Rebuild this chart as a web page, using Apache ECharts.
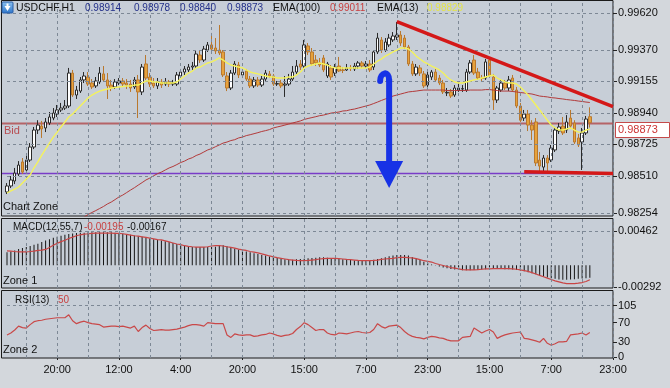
<!DOCTYPE html>
<html><head><meta charset="utf-8">
<script src="https://cdn.jsdelivr.net/npm/echarts@6/dist/echarts.min.js"></script>
<style>html,body{margin:0;padding:0;background:#d3d7dc}#c{width:670px;height:388px}</style>
</head><body><div id="c"></div>
<script>
// ---------------- DATA ----------------
const openP = [0.98400,0.98441,0.98475,0.98523,0.98605,0.98550,0.98618,0.98707,0.98823,0.98850,
0.98837,0.98871,0.98905,0.98932,0.98960,0.98973,0.98987,0.99212,0.99062,0.99089,
0.99165,0.99185,0.99144,0.99124,0.99151,0.99206,0.99165,0.99130,0.99117,0.99144,
0.99158,0.99144,0.99137,0.99117,0.99165,0.99083,0.99274,0.99185,0.99144,0.99124,
0.99151,0.99137,0.99151,0.99137,0.99137,0.99192,0.99219,0.99233,0.99253,0.99260,
0.99335,0.99301,0.99369,0.99404,0.99383,0.99369,0.99356,0.99192,0.99110,0.99212,
0.99267,0.99199,0.99226,0.99171,0.99124,0.99165,0.99130,0.99171,0.99206,0.99192,
0.99137,0.99144,0.99130,0.99137,0.99171,0.99219,0.99274,0.99260,0.99397,0.99356,
0.99301,0.99281,0.99315,0.99192,0.99247,0.99212,0.99260,0.99233,0.99233,0.99247,
0.99240,0.99260,0.99281,0.99260,0.99274,0.99253,0.99356,0.99438,0.99369,0.99404,
0.99438,0.99458,0.99472,0.99451,0.99390,0.99274,0.99206,0.99247,0.99206,0.99130,
0.99185,0.99219,0.99178,0.99144,0.99076,0.99083,0.99062,0.99096,0.99103,0.99096,
0.99219,0.99301,0.99219,0.99178,0.99178,0.99301,0.99185,0.99028,0.99096,0.99144,
0.99110,0.99178,0.99096,0.98987,0.98905,0.98932,0.98857,0.98878,0.98618,0.98570,
0.98632,0.98618,0.98687,0.98816,0.98850,0.98823,0.98905,0.98871,0.98769,0.98741,
0.98803,0.98914];
const closeP = [0.98441,0.98482,0.98529,0.98584,0.98536,0.98618,0.98707,0.98823,0.98857,0.98830,
0.98878,0.98912,0.98939,0.98960,0.98973,0.98987,0.99212,0.99062,0.99096,0.99165,
0.99192,0.99137,0.99117,0.99158,0.99212,0.99165,0.99124,0.99110,0.99151,0.99158,
0.99137,0.99130,0.99110,0.99165,0.99083,0.99253,0.99178,0.99137,0.99124,0.99151,
0.99130,0.99151,0.99137,0.99144,0.99199,0.99219,0.99240,0.99253,0.99260,0.99342,
0.99301,0.99376,0.99404,0.99376,0.99363,0.99349,0.99199,0.99110,0.99212,0.99274,
0.99199,0.99219,0.99171,0.99124,0.99165,0.99130,0.99171,0.99212,0.99192,0.99137,
0.99140,0.99124,0.99137,0.99171,0.99219,0.99260,0.99253,0.99404,0.99356,0.99274,
0.99281,0.99267,0.99233,0.99274,0.99185,0.99253,0.99226,0.99230,0.99247,0.99244,
0.99260,0.99281,0.99260,0.99274,0.99233,0.99356,0.99451,0.99369,0.99424,0.99451,
0.99465,0.99472,0.99417,0.99390,0.99274,0.99206,0.99253,0.99212,0.99124,0.99199,
0.99219,0.99165,0.99144,0.99083,0.99080,0.99055,0.99110,0.99110,0.99106,0.99219,
0.99281,0.99212,0.99178,0.99175,0.99288,0.99192,0.99028,0.99110,0.99144,0.99110,
0.99165,0.99096,0.98987,0.98890,0.98932,0.98857,0.98823,0.98598,0.98577,0.98632,
0.98598,0.98700,0.98823,0.98844,0.98803,0.98878,0.98850,0.98741,0.98721,0.98803,
0.98898,0.98873];
const lowP = [0.98386,0.98427,0.98454,0.98509,0.98523,0.98536,0.98605,0.98693,0.98796,0.98769,
0.98809,0.98857,0.98890,0.98912,0.98946,0.98960,0.98973,0.99049,0.99035,0.99076,
0.99144,0.99124,0.99103,0.99110,0.99137,0.99151,0.99035,0.99089,0.99103,0.99130,
0.99117,0.99103,0.99083,0.99103,0.98905,0.99062,0.99165,0.99117,0.99110,0.99103,
0.99110,0.99124,0.99117,0.99124,0.99124,0.99178,0.99199,0.99219,0.99233,0.99247,
0.99281,0.99288,0.99356,0.99356,0.99342,0.99335,0.99185,0.99089,0.99096,0.99199,
0.99178,0.99178,0.99158,0.99110,0.99110,0.99117,0.99117,0.99158,0.99178,0.99124,
0.99124,0.99110,0.99049,0.99124,0.99158,0.99206,0.99233,0.99247,0.99335,0.99260,
0.99260,0.99253,0.99219,0.99178,0.99165,0.99192,0.99219,0.99212,0.99226,0.99226,
0.99226,0.99240,0.99247,0.99247,0.99219,0.99233,0.99342,0.99349,0.99356,0.99390,
0.99424,0.99438,0.99397,0.99376,0.99260,0.99192,0.99192,0.99192,0.99110,0.99117,
0.99165,0.99151,0.99130,0.99069,0.99055,0.99042,0.99049,0.99083,0.99083,0.99083,
0.99206,0.99199,0.99165,0.99151,0.99165,0.99178,0.98960,0.99008,0.99083,0.99096,
0.99089,0.99083,0.98973,0.98878,0.98885,0.98816,0.98755,0.98577,0.98543,0.98536,
0.98543,0.98605,0.98673,0.98796,0.98789,0.98803,0.98837,0.98728,0.98707,0.98550,
0.98789,0.98840];
const highP = [0.98461,0.98509,0.98564,0.98611,0.98632,0.98652,0.98734,0.98844,0.98890,0.98885,
0.98905,0.98946,0.98973,0.98994,0.99008,0.99028,0.99247,0.99233,0.99124,0.99185,
0.99219,0.99219,0.99171,0.99185,0.99253,0.99260,0.99212,0.99165,0.99171,0.99178,
0.99178,0.99171,0.99165,0.99185,0.99199,0.99274,0.99335,0.99212,0.99178,0.99178,
0.99171,0.99178,0.99165,0.99165,0.99219,0.99240,0.99260,0.99274,0.99288,0.99363,
0.99369,0.99397,0.99424,0.99486,0.99451,0.99540,0.99369,0.99219,0.99233,0.99294,
0.99288,0.99240,0.99240,0.99192,0.99185,0.99185,0.99192,0.99233,0.99226,0.99206,
0.99158,0.99165,0.99192,0.99206,0.99260,0.99301,0.99301,0.99438,0.99417,0.99383,
0.99335,0.99315,0.99335,0.99288,0.99267,0.99274,0.99322,0.99253,0.99274,0.99267,
0.99281,0.99294,0.99294,0.99294,0.99301,0.99369,0.99486,0.99458,0.99451,0.99479,
0.99492,0.99561,0.99499,0.99472,0.99404,0.99294,0.99274,0.99267,0.99226,0.99219,
0.99233,0.99240,0.99199,0.99165,0.99110,0.99103,0.99130,0.99137,0.99130,0.99240,
0.99301,0.99335,0.99247,0.99199,0.99308,0.99315,0.99206,0.99124,0.99165,0.99165,
0.99192,0.99199,0.99117,0.99008,0.98960,0.98960,0.98890,0.98905,0.98673,0.98652,
0.98652,0.98721,0.98844,0.98871,0.98912,0.98925,0.98960,0.98890,0.98796,0.98837,
0.98919,0.98978];
const ema100 = [null,null,null,null,null,null,null,null,null,null,
null,null,null,null,null,null,null,null,null,null,
0.98229,0.98246,0.98260,0.98273,0.98287,0.98301,0.98318,0.98331,0.98348,0.98366,
0.98379,0.98396,0.98413,0.98429,0.98447,0.98464,0.98482,0.98495,0.98511,0.98525,
0.98536,0.98550,0.98564,0.98574,0.98587,0.98601,0.98611,0.98625,0.98634,0.98649,
0.98659,0.98673,0.98687,0.98696,0.98709,0.98721,0.98734,0.98741,0.98751,0.98757,
0.98769,0.98775,0.98785,0.98791,0.98798,0.98805,0.98813,0.98819,0.98826,0.98837,
0.98844,0.98850,0.98857,0.98864,0.98871,0.98878,0.98885,0.98895,0.98902,0.98908,
0.98914,0.98921,0.98925,0.98932,0.98939,0.98942,0.98946,0.98953,0.98955,0.98962,
0.98966,0.98973,0.98980,0.98987,0.98994,0.99004,0.99014,0.99025,0.99035,0.99044,
0.99055,0.99062,0.99069,0.99076,0.99083,0.99086,0.99089,0.99093,0.99096,0.99096,
0.99096,0.99096,0.99096,0.99096,0.99093,0.99093,0.99093,0.99093,0.99093,0.99093,
0.99096,0.99096,0.99096,0.99096,0.99099,0.99099,0.99096,0.99093,0.99089,0.99089,
0.99089,0.99086,0.99083,0.99079,0.99076,0.99072,0.99069,0.99062,0.99055,0.99052,
0.99049,0.99044,0.99042,0.99038,0.99035,0.99031,0.99028,0.99025,0.99021,0.99018,
0.99014,0.99011];
const ema13 = [0.98393,0.98407,0.98420,0.98434,0.98461,0.98488,0.98516,0.98564,0.98605,0.98652,
0.98693,0.98734,0.98775,0.98809,0.98844,0.98878,0.98912,0.98932,0.98960,0.98987,
0.99014,0.99042,0.99062,0.99076,0.99089,0.99096,0.99103,0.99110,0.99113,0.99117,
0.99120,0.99124,0.99124,0.99130,0.99130,0.99144,0.99158,0.99158,0.99151,0.99151,
0.99144,0.99144,0.99144,0.99144,0.99151,0.99171,0.99192,0.99212,0.99226,0.99247,
0.99253,0.99267,0.99281,0.99288,0.99301,0.99315,0.99301,0.99281,0.99267,0.99260,
0.99253,0.99247,0.99233,0.99219,0.99212,0.99206,0.99199,0.99192,0.99185,0.99185,
0.99178,0.99178,0.99178,0.99185,0.99185,0.99199,0.99219,0.99247,0.99260,0.99267,
0.99274,0.99281,0.99274,0.99267,0.99253,0.99247,0.99247,0.99247,0.99247,0.99247,
0.99247,0.99247,0.99247,0.99247,0.99253,0.99274,0.99294,0.99308,0.99328,0.99342,
0.99356,0.99369,0.99383,0.99383,0.99376,0.99356,0.99328,0.99308,0.99288,0.99274,
0.99260,0.99247,0.99233,0.99212,0.99185,0.99165,0.99151,0.99144,0.99144,0.99151,
0.99158,0.99165,0.99171,0.99178,0.99185,0.99192,0.99199,0.99178,0.99165,0.99151,
0.99144,0.99144,0.99137,0.99117,0.99089,0.99062,0.99028,0.98994,0.98960,0.98925,
0.98890,0.98857,0.98837,0.98823,0.98823,0.98830,0.98837,0.98823,0.98809,0.98809,
0.98823,0.98829];
const macdHist = [0.00177,0.00186,0.00200,0.00218,0.00232,0.00246,0.00260,0.00278,0.00292,0.00315,
0.00333,0.00352,0.00370,0.00384,0.00398,0.00411,0.00421,0.00430,0.00434,0.00439,
0.00439,0.00444,0.00444,0.00444,0.00444,0.00444,0.00444,0.00444,0.00439,0.00434,
0.00425,0.00421,0.00411,0.00402,0.00393,0.00384,0.00370,0.00361,0.00352,0.00342,
0.00333,0.00324,0.00315,0.00301,0.00287,0.00273,0.00260,0.00250,0.00246,0.00246,
0.00246,0.00246,0.00246,0.00246,0.00250,0.00264,0.00269,0.00255,0.00246,0.00228,
0.00214,0.00200,0.00186,0.00177,0.00163,0.00154,0.00140,0.00131,0.00117,0.00108,
0.00099,0.00090,0.00080,0.00076,0.00076,0.00080,0.00085,0.00090,0.00094,0.00099,
0.00103,0.00108,0.00108,0.00103,0.00099,0.00094,0.00085,0.00080,0.00076,0.00071,
0.00066,0.00062,0.00062,0.00066,0.00071,0.00076,0.00085,0.00094,0.00108,0.00122,
0.00131,0.00140,0.00140,0.00140,0.00131,0.00113,0.00094,0.00071,0.00048,0.00030,
0.00011,-0.00002,-0.00016,-0.00030,-0.00039,-0.00048,-0.00058,-0.00062,-0.00067,-0.00067,
-0.00067,-0.00062,-0.00062,-0.00058,-0.00053,-0.00048,-0.00048,-0.00048,-0.00048,-0.00053,
-0.00053,-0.00058,-0.00062,-0.00071,-0.00081,-0.00094,-0.00108,-0.00122,-0.00136,-0.00150,
-0.00163,-0.00173,-0.00182,-0.00191,-0.00196,-0.00196,-0.00191,-0.00186,-0.00182,-0.00177,
-0.00173,-0.00167];
const macdSignal = [0.00195,0.00191,0.00186,0.00182,0.00182,0.00182,0.00186,0.00191,0.00200,0.00205,
0.00214,0.00241,0.00269,0.00296,0.00319,0.00338,0.00361,0.00379,0.00398,0.00411,
0.00421,0.00425,0.00430,0.00434,0.00434,0.00434,0.00434,0.00434,0.00430,0.00430,
0.00425,0.00416,0.00407,0.00398,0.00393,0.00384,0.00375,0.00365,0.00356,0.00347,
0.00342,0.00329,0.00315,0.00301,0.00287,0.00278,0.00264,0.00255,0.00250,0.00246,
0.00246,0.00246,0.00250,0.00260,0.00264,0.00264,0.00260,0.00250,0.00241,0.00232,
0.00218,0.00209,0.00200,0.00186,0.00177,0.00168,0.00154,0.00140,0.00126,0.00113,
0.00103,0.00094,0.00085,0.00076,0.00071,0.00066,0.00062,0.00062,0.00066,0.00071,
0.00076,0.00085,0.00090,0.00094,0.00094,0.00094,0.00090,0.00085,0.00080,0.00076,
0.00071,0.00066,0.00062,0.00062,0.00062,0.00066,0.00071,0.00080,0.00085,0.00090,
0.00094,0.00103,0.00108,0.00108,0.00103,0.00099,0.00090,0.00076,0.00062,0.00053,
0.00044,0.00025,0.00011,-0.00002,-0.00016,-0.00030,-0.00039,-0.00048,-0.00058,-0.00062,
-0.00062,-0.00062,-0.00058,-0.00053,-0.00048,-0.00048,-0.00044,-0.00044,-0.00044,-0.00044,
-0.00044,-0.00048,-0.00053,-0.00062,-0.00071,-0.00081,-0.00099,-0.00117,-0.00136,-0.00154,
-0.00173,-0.00191,-0.00209,-0.00223,-0.00237,-0.00246,-0.00246,-0.00246,-0.00241,-0.00232,
-0.00218,-0.00195];
const rsi = [45,49,55,63,60,59,66,72,74,75,
77,78,79,80,80,80,86,74,68,71,
73,70,68,67,66,61,62,63,63,62,
63,61,59,63,52,60,65,58,54,55,
56,55,55,56,57,59,61,64,66,66,
65,63,70,69,68,68,68,45,40,47,
45,44,45,45,42,43,45,46,49,47,
44,42,44,45,48,56,62,70,66,60,
54,56,56,49,46,45,49,48,47,49,
51,52,50,49,50,56,68,62,59,63,
64,65,60,52,46,42,40,39,37,40,
42,41,39,38,35,33,33,33,40,41,
42,59,54,49,53,56,51,38,42,45,
47,49,50,51,38,37,35,33,30,38,
28,24,27,31,31,32,45,46,47,49,
45,50];
const priceTicks = [0.99620,0.99370,0.99155,0.98940,0.98725,0.98510,0.98254];
const macdTicks = [0.00462,-0.00292];
const rsiTicks = [105,70,30,0];
const rsiGridLevels = [105];
const xTickIndex = [13,29,45,61,77,93,109,125,141,157];
const xTickText = ['20:00','12:00','4:00','20:00','15:00','7:00','23:00','15:00','7:00','23:00'];
const bidPrice = 0.98873;
const purpleLevel = 0.98527;
const trendStart = [101, 0.99563], trendEnd = [157, 0.98982];
const supportStart = [134, 0.98538], supportEnd = [157, 0.98526];
const arrowTop = [99, 0.99212], arrowTip = [99, 0.98427];
const header = {sym:'USDCHF,H1', ohlc:['0.98914','0.98978','0.98840','0.98873'], ema100:'0.99011', ema13:'0.98829'};
const macdLabel = {name:'MACD(12,55,7)', v1:'-0.00195', v2:'-0.00167'};
const rsiLabel = {name:'RSI(13)', v:'50'};

// ---------------- CHART ----------------
const NSLOT = 158;
const cats = Array.from({length:NSLOT},(_,i)=>String(i));
const vGrid = []; for (let i=5;i<NSLOT;i+=8) vGrid.push(i);
const FONT = "'Liberation Sans', Arial, sans-serif";
const GRIDC = '#7d8895';
const PANE = '#c7ced7';
const candles = openP.map((o,i)=>[o, closeP[i], lowP[i], highP[i]]);
const yRanges = [[0.98236,0.99704],[-0.003055,0.006236],[-2.04,134.6]];
const hLevels = [priceTicks, [macdTicks[0]], rsiGridLevels];
const PANE_X0 = 2, PANE_X1 = 613;

const gridDefs = [
  {left:7, right:57, top:1, height:215},
  {left:7, right:57, top:219, height:69},
  {left:7, right:57, top:291, height:67}
];
function gridLineSeries(idx){
  const r = yRanges[idx];
  const vert = vGrid.map(v=>[{coord:[v, r[0]]},{coord:[v, r[1]]}]);
  const hor = hLevels[idx].map(v=>[{coord:[0, v]},{coord:[NSLOT-1, v]}]);
  return {type:'line', xAxisIndex:idx, yAxisIndex:idx, data:[], z:1, silent:true,
    markLine:{silent:true, symbol:['none','none'], label:{show:false}, animation:false,
      lineStyle:{color:GRIDC, type:[3,3], width:1}, emphasis:{disabled:true},
      data: vert.concat(hor)}};
}
const yLab = (fmt)=>({show:true, color:'#111', fontFamily:FONT, fontSize:11, margin:5, formatter:fmt});

const chart = echarts.init(document.getElementById('c'), null, {renderer:'canvas'});
const option = {
  animation:false,
  backgroundColor:'#d3d7dc',
  grid: gridDefs,
  xAxis: [0,1,2].map(i=>({type:'category', gridIndex:i, data:cats, boundaryGap:false,
    axisLine:{show:false}, splitLine:{show:false},
    axisTick: i===2 ? {show:true, length:3, lineStyle:{color:'#222'}, interval:(k)=>xTickIndex.includes(k)} : {show:false},
    axisLabel: i===2 ? {show:true, interval:(k)=>xTickIndex.includes(k), formatter:(v)=>xTickText[xTickIndex.indexOf(Number(v))]||'', color:'#111', fontFamily:FONT, fontSize:11, margin:6} : {show:false}
  })),
  yAxis: [0,1,2].map(i=>{
    const ticks = [priceTicks, macdTicks, rsiTicks][i];
    const fmt = i===2 ? (v=>String(Math.round(v))) : (v=>v.toFixed(5));
    return {type:'value', gridIndex:i, position:'right', min:yRanges[i][0], max:yRanges[i][1],
      splitLine:{show:false}, axisLine:{show:false},
      axisTick:{show:true, length:4, customValues:ticks, lineStyle:{color:'#222'}},
      axisLabel:Object.assign(yLab(fmt), {customValues:ticks})};
  }),
  series: [
    gridLineSeries(0), gridLineSeries(1), gridLineSeries(2),
    {type:'candlestick', name:'USDCHF', xAxisIndex:0, yAxisIndex:0, data:candles, z:3, clip:false,
     barWidth:3,
     itemStyle:{color:'#ffffff', color0:'#e6a23c', borderColor:'#2a2a2a', borderColor0:'#b9782e', borderWidth:1}},
    {type:'line', name:'EMA(100)', xAxisIndex:0, yAxisIndex:0, data:ema100, z:4, symbol:'none', silent:true,
     lineStyle:{color:'#b23a3a', width:1}},
    {type:'line', name:'EMA(13)', xAxisIndex:0, yAxisIndex:0, data:ema13, z:5, symbol:'none', silent:true,
     lineStyle:{color:'#f4f25c', width:1.4}},
    {type:'line', xAxisIndex:0, yAxisIndex:0, data:[], z:6, silent:true,
     markLine:{silent:true, symbol:['none','none'], label:{show:false}, emphasis:{disabled:true},
       lineStyle:{color:'#d41818', width:3.5, type:'solid'},
       data:[[{coord:trendStart},{coord:trendEnd}],[{coord:supportStart},{coord:supportEnd}]]}},
    {type:'bar', name:'MACD', xAxisIndex:1, yAxisIndex:1, data:macdHist, z:3, barWidth:1, silent:true,
     itemStyle:{color:'#161616'}},
    {type:'line', name:'Signal', xAxisIndex:1, yAxisIndex:1, data:macdSignal, z:4, symbol:'none', silent:true,
     lineStyle:{color:'#c94545', width:1.2}},
    {type:'line', name:'RSI', xAxisIndex:2, yAxisIndex:2, data:rsi, z:4, symbol:'none', silent:true,
     lineStyle:{color:'#c94848', width:1.2}}
  ]
};
chart.setOption(option);

// ---------- annotations (anchored on data coordinates) ----------
const py = (g, v)=>chart.convertToPixel({gridIndex:g}, [0, v])[1];
const pTop = chart.convertToPixel({gridIndex:0}, arrowTop);
const pTip = chart.convertToPixel({gridIndex:0}, arrowTip);
const yBid = py(0, bidPrice);
const BLUE = '#1732e6';
const T = (x,y,text,fill,size)=>({type:'text', x, y, z:100, silent:true,
  style:{text, fill, font:(size||11)+'px '+FONT, textVerticalAlign:'middle', verticalAlign:'middle'}});
const paneRect = (x,y,w,h)=>({type:'rect', z:-10, silent:true, shape:{x, y, width:w, height:h},
  style:{fill:PANE, stroke:'#1a1a1a', lineWidth:1}});
const hl = (y, stroke, width)=>({type:'line', z:2, silent:true,
  shape:{x1:PANE_X0, y1:Math.round(y)+0.5, x2:PANE_X1, y2:Math.round(y)+0.5},
  style:{stroke, lineWidth:width}});
const x0 = pTop[0], yT = pTop[1], yTip = pTip[1];
const graphics = [
  paneRect(1.5,0.5,611.5,215.5),
  paneRect(1.5,218.5,611.5,69.5),
  paneRect(1.5,290.5,611.5,67.5),
  hl(yBid, 'rgba(178,80,84,0.85)', 2),
  hl(py(0,purpleLevel), '#7a3cc8', 1.5),
  {type:'rect', z:100, silent:true, shape:{x:2, y:2, width:11, height:11, r:1},
   style:{fill:new echarts.graphic.LinearGradient(0,0,0,1,[{offset:0,color:'#8fc4f2'},{offset:1,color:'#2a72c8'}]), stroke:'#2a5fa8', lineWidth:1}},
  {type:'polygon', z:101, silent:true, shape:{points:[[4.5,6],[10.5,6],[7.5,11]]}, style:{fill:'#ffffff'}},
  {type:'rect', z:101, silent:true, shape:{x:6.5, y:3.5, width:2, height:3}, style:{fill:'#ffffff'}},
  T(16,8,header.sym,'#111',10.5),
  T(85,8,header.ohlc[0],'#23308a',10),
  T(134,8,header.ohlc[1],'#23308a',10),
  T(180,8,header.ohlc[2],'#23308a',10),
  T(227,8,header.ohlc[3],'#23308a',10),
  T(273,8,'EMA(100)','#111',10.5),
  T(330,8,header.ema100,'#c84040',10),
  T(377,8,'EMA(13)','#111',10.5),
  T(427,8,header.ema13,'#e4e448',10),
  T(3,207,'Chart Zone','#111',11),
  T(4,131,'Bid','#b84c50',11),
  T(13,227,macdLabel.name,'#111',10),
  T(84,227,macdLabel.v1,'#c84040',10),
  T(127,227,macdLabel.v2,'#111',10),
  T(3,281,'Zone 1','#111',11),
  T(15,300,rsiLabel.name,'#111',10),
  T(58,300,rsiLabel.v,'#c84040',10),
  T(3,350,'Zone 2','#111',11),
  {type:'rect', z:100, silent:true, shape:{x:615.5, y:Math.round(yBid)-0.5, width:54, height:15},
   style:{fill:'#ffffff', stroke:'#c44a4a', lineWidth:1}},
  T(618,Math.round(yBid)+7,bidPrice.toFixed(5),'#cc3434',11),
  {type:'bezierCurve', z:50, silent:true,
   shape:{x1:x0-9, y1:yT+8, cpx1:x0-9, cpy1:yT-1, cpx2:x0, cpy2:yT-3, x2:x0, y2:yT+7},
   style:{stroke:BLUE, lineWidth:6, fill:null, lineCap:'round'}},
  {type:'line', z:50, silent:true, shape:{x1:x0, y1:yT+6, x2:x0, y2:yTip-24},
   style:{stroke:BLUE, lineWidth:6}},
  {type:'polygon', z:50, silent:true, shape:{points:[[x0-14,yTip-27],[x0+14,yTip-27],[x0,yTip]]},
   style:{fill:BLUE}}
];
chart.setOption({graphic:{elements:graphics}});
</script>
</body></html>
